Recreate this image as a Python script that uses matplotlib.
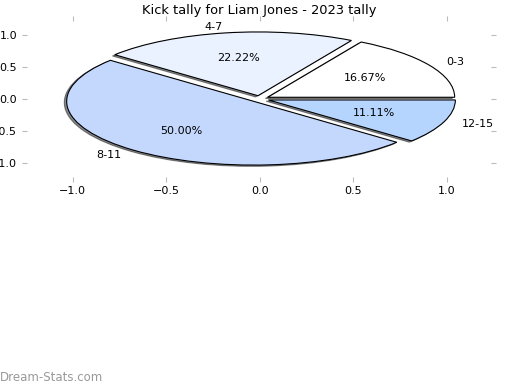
import matplotlib
matplotlib.use('Agg')
import matplotlib.pyplot as plt

labels  = ['0-3', '4-7', '8-11', '12-15']
values  = [16.67, 22.22, 50.00, 11.11]
colors  = ['#ffffff', '#eaf1ff', '#c4d8fe', '#b6d5fe']
explode = [0.05, 0.05, 0.05, 0.05]

fig = plt.figure(figsize=(5.2, 3.9), dpi=100)
ax = fig.add_axes([0.052, 0.547, 0.892, 0.40])

ax.pie(values, labels=labels, colors=colors, explode=explode,
       autopct='%1.2f%%', startangle=0, frame=True,
       shadow={'ox': -0.009, 'oy': -0.014, 'shade': 0.9},
       wedgeprops={'edgecolor': 'black', 'linewidth': 0.8},
       textprops={'fontsize': 8})
ax.set_aspect('auto')
ax.set_xlim(-1.244, 1.237)
ax.set_ylim(-1.22, 1.226)
ax.set_xticks([-1.0, -0.5, 0.0, 0.5, 1.0])
ax.set_yticks([-1.0, -0.5, 0.0, 0.5, 1.0])
for sp in ax.spines.values():
    sp.set_visible(False)
ax.tick_params(axis='both', labelsize=8, color='#bbbbbb',
               top=True, right=True, length=3.5)
ax.set_title('Kick tally for Liam Jones - 2023 tally', fontsize=9.4, pad=4.5)

fig.text(0.0, 0.015, 'Dream-Stats.com', fontsize=8.5, color='#999999',
         ha='left', va='bottom')

fig.savefig('out.png', dpi=100)
